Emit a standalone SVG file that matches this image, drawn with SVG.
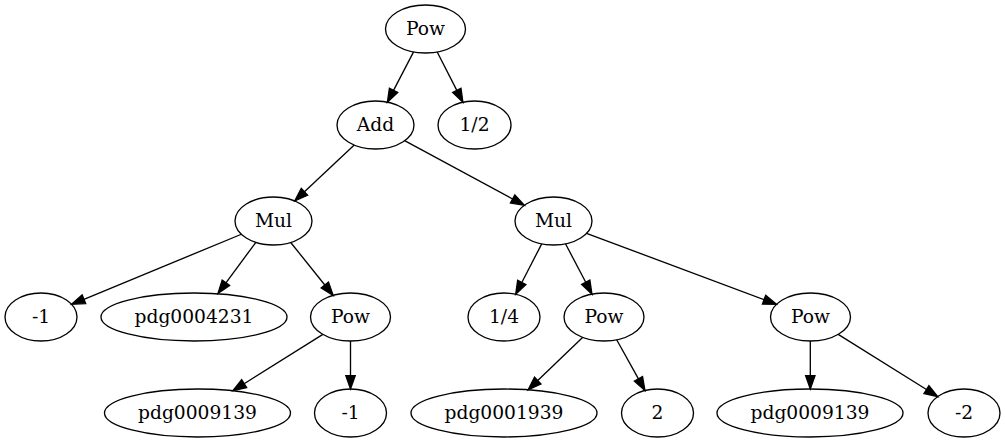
<svg xmlns="http://www.w3.org/2000/svg" width="1005" height="443" viewBox="0 0 1005 443">
<style>
.n ellipse{fill:none;stroke:#000;stroke-width:1.33}
.n text{font-family:"DejaVu Serif","Liberation Serif",serif;font-size:18.67px;text-anchor:middle;fill:#000}
#edges line{stroke:#000;stroke-width:1.33;marker-end:url(#ah)}
</style>
<defs>
<marker id="ah" markerUnits="userSpaceOnUse" markerWidth="16" markerHeight="12" refX="0" refY="0" viewBox="-1 -6 16 12" orient="auto" overflow="visible">
<path d="M0,-4.67 L13.33,0 L0,4.67 Z" fill="#000" stroke="#000" stroke-width="1.33"/>
</marker>
</defs>
<rect width="1005" height="443" fill="#fff"/>
<g id="edges">
<line x1="413.57" y1="51.91" x2="393.55" y2="90.35"/>
<line x1="437.21" y1="51.95" x2="456.83" y2="90.38"/>
<line x1="354.24" y1="145.01" x2="304.47" y2="191.85"/>
<line x1="404.62" y1="140.70" x2="512.65" y2="198.97"/>
<line x1="241.40" y1="234.25" x2="83.93" y2="299.27"/>
<line x1="255.5" y1="242.8" x2="225.93" y2="282.78"/>
<line x1="290.72" y1="242.47" x2="324.81" y2="284.97"/>
<line x1="541.72" y1="243.85" x2="521.81" y2="282.45"/>
<line x1="565.50" y1="243.80" x2="585.75" y2="282.31"/>
<line x1="586.53" y1="233.34" x2="764.05" y2="299.66"/>
<line x1="322.86" y1="334.35" x2="244.16" y2="383.72"/>
<line x1="350.5" y1="341" x2="350.5" y2="375.67"/>
<line x1="582.80" y1="337.35" x2="537.76" y2="380.59"/>
<line x1="616.68" y1="339.76" x2="638.47" y2="378.86"/>
<line x1="810.3" y1="341" x2="810.3" y2="375.67"/>
<line x1="838.19" y1="334.32" x2="926.45" y2="389.51"/>
</g>
<g id="n0" class="n"><ellipse cx="425.5" cy="29" rx="40" ry="24"/><text x="425.5" y="35">Pow</text></g>
<g id="n1" class="n"><ellipse cx="375.5" cy="125" rx="38.5" ry="24"/><text x="375.5" y="131">Add</text></g>
<g id="n2" class="n"><ellipse cx="474.5" cy="125" rx="36.5" ry="24"/><text x="474.5" y="131">1/2</text></g>
<g id="n3" class="n"><ellipse cx="273.5" cy="221" rx="38.5" ry="24"/><text x="273.5" y="227">Mul</text></g>
<g id="n4" class="n"><ellipse cx="553.5" cy="221" rx="38.5" ry="24"/><text x="553.5" y="227">Mul</text></g>
<g id="n5" class="n"><ellipse cx="41" cy="317" rx="36" ry="24"/><text x="41" y="323">-1</text></g>
<g id="n6" class="n"><ellipse cx="194" cy="317" rx="93" ry="24"/><text x="194" y="323">pdg0004231</text></g>
<g id="n7" class="n"><ellipse cx="350.5" cy="317" rx="40" ry="24"/><text x="350.5" y="323">Pow</text></g>
<g id="n8" class="n"><ellipse cx="504" cy="317" rx="36" ry="24"/><text x="504" y="323">1/4</text></g>
<g id="n9" class="n"><ellipse cx="604" cy="317" rx="40" ry="24"/><text x="604" y="323">Pow</text></g>
<g id="n10" class="n"><ellipse cx="810.5" cy="317" rx="40" ry="24"/><text x="810.5" y="323">Pow</text></g>
<g id="n11" class="n"><ellipse cx="197.5" cy="413" rx="93" ry="24"/><text x="197.5" y="419">pdg0009139</text></g>
<g id="n12" class="n"><ellipse cx="350.5" cy="413" rx="36" ry="24"/><text x="350.5" y="419">-1</text></g>
<g id="n13" class="n"><ellipse cx="504" cy="413" rx="93" ry="24"/><text x="504" y="419">pdg0001939</text></g>
<g id="n14" class="n"><ellipse cx="657.5" cy="413" rx="36" ry="24"/><text x="657.5" y="419">2</text></g>
<g id="n15" class="n"><ellipse cx="810" cy="413" rx="93" ry="24"/><text x="810" y="419">pdg0009139</text></g>
<g id="n16" class="n"><ellipse cx="964" cy="413" rx="36" ry="24"/><text x="964" y="419">-2</text></g>
</svg>
